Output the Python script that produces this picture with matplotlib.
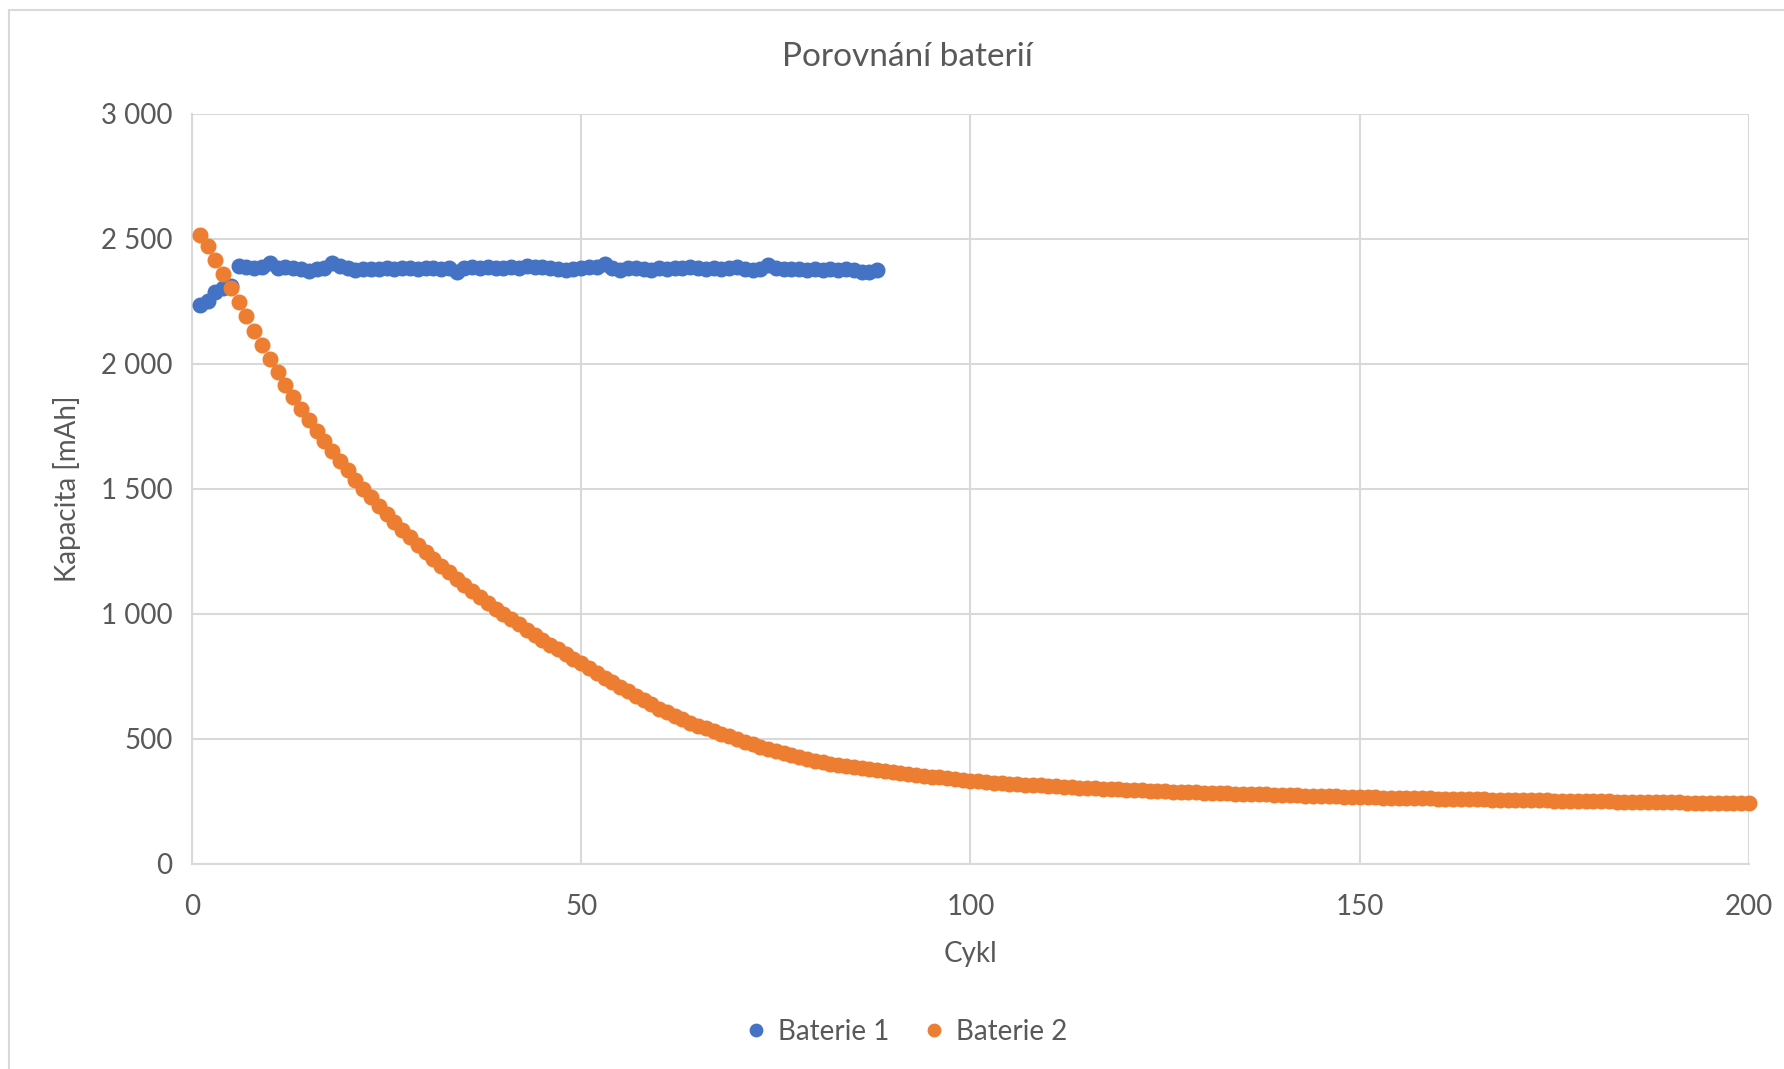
import matplotlib.pyplot as plt
from matplotlib.ticker import FuncFormatter, MultipleLocator
from matplotlib.patches import Rectangle

# =============================================================================
# DATA
# =============================================================================

TITLE = "Porovnání baterií"
X_LABEL = "Cykl"
Y_LABEL = "Kapacita [mAh]"
SERIES_NAMES = ["Baterie 1", "Baterie 2"]

BATERIE_1 = [
    2235, 2252, 2286, 2302, 2310, 2392, 2386, 2382, 2386, 2402,
    2384, 2385, 2382, 2380, 2372, 2378, 2384, 2403, 2390, 2384,
    2374, 2378, 2380, 2378, 2382, 2380, 2384, 2382, 2380, 2383,
    2381, 2379, 2382, 2366, 2384, 2386, 2382, 2388, 2384, 2381,
    2386, 2384, 2392, 2388, 2386, 2384, 2380, 2374, 2380, 2384,
    2386, 2388, 2398, 2384, 2376, 2382, 2384, 2380, 2376, 2382,
    2380, 2384, 2382, 2386, 2383, 2380, 2382, 2380, 2384, 2388,
    2378, 2374, 2380, 2394, 2382, 2380, 2378, 2378, 2376, 2378,
    2376, 2378, 2376, 2377, 2374, 2368, 2366, 2376,
]

BATERIE_2 = [
    2513, 2469, 2416, 2360, 2303, 2246, 2189, 2132, 2076, 2020,
    1966, 1915, 1866, 1819, 1774, 1731, 1690, 1650, 1611, 1573,
    1536, 1500, 1465, 1431, 1399, 1367, 1336, 1306, 1276, 1248,
    1220, 1192, 1166, 1140, 1114, 1090, 1066, 1042, 1020, 998,
    977, 957, 936, 916, 896, 876, 857, 839, 820, 802,
    781, 763, 744, 726, 708, 690, 672, 655, 637, 620,
    605, 591, 578, 565, 553, 542, 531, 520, 510, 500,
    489, 479, 469, 459, 450, 442, 434, 426, 419, 413,
    407, 401, 396, 392, 387, 383, 379, 375, 371, 367,
    364, 360, 356, 353, 349, 346, 342, 339, 335, 332,
    330, 328, 325, 323, 321, 319, 317, 316, 314, 312,
    310, 309, 307, 305, 304, 302, 301, 299, 298, 296,
    295, 294, 293, 291, 290, 289, 288, 287, 286, 285,
    284, 283, 282, 281, 280, 279, 279, 278, 277, 276,
    275, 274, 273, 272, 271, 271, 270, 269, 268, 267,
    266, 266, 265, 265, 264, 263, 263, 262, 262, 261,
    261, 260, 259, 259, 258, 258, 257, 257, 256, 256,
    255, 255, 254, 254, 253, 253, 252, 252, 251, 251,
    250, 250, 249, 249, 248, 248, 247, 247, 247, 246,
    246, 245, 245, 245, 244, 244, 243, 243, 243, 242,
]

CYCLES_1 = list(range(1, len(BATERIE_1) + 1))
CYCLES_2 = list(range(1, len(BATERIE_2) + 1))

# =============================================================================
# STYLE
# =============================================================================

BLUE = "#4472C4"
ORANGE = "#ED7D31"
TEXT = "#595959"
GRID = "#D9D9D9"

plt.rcParams["font.family"] = ["Lato", "DejaVu Sans"]


def thousands(v, _pos):
    return f"{int(v):,}".replace(",", " ")


fig = plt.figure(figsize=(17.84, 10.69), dpi=100)
ax = fig.add_axes([0.1076, 0.192, 0.8728, 0.7016])

# outer chart border (Excel chart area)
fig.patches.append(Rectangle((9 / 1784, -0.05), 1.2, 1 - 10 / 1069 + 0.05,
                             transform=fig.transFigure, fill=False,
                             edgecolor=GRID, linewidth=1.5))

ax.plot(CYCLES_1, BATERIE_1, linestyle="none", marker="o", markersize=10.5,
        color=BLUE, label=SERIES_NAMES[0], clip_on=False, zorder=3)
ax.plot(CYCLES_2, BATERIE_2, linestyle="none", marker="o", markersize=10.5,
        color=ORANGE, label=SERIES_NAMES[1], clip_on=False, zorder=3)

ax.set_xlim(0, 200)
ax.set_ylim(0, 3000)
ax.xaxis.set_major_locator(MultipleLocator(50))
ax.yaxis.set_major_locator(MultipleLocator(500))
ax.yaxis.set_major_formatter(FuncFormatter(thousands))

ax.grid(True, color=GRID, linewidth=1.5, zorder=0)
ax.set_axisbelow(True)
for side in ["top", "right"]:
    ax.spines[side].set_visible(False)
for side in ["left", "bottom"]:
    ax.spines[side].set_color(GRID)
    ax.spines[side].set_linewidth(1.5)

ax.tick_params(axis="y", length=0, labelsize=20, labelcolor=TEXT, pad=14)
ax.tick_params(axis="x", length=0, labelsize=20, labelcolor=TEXT, pad=22)
ax.set_xlabel(X_LABEL, fontsize=20, color=TEXT, labelpad=15)
ax.set_ylabel(Y_LABEL, fontsize=20, color=TEXT, labelpad=14)

fig.text(0.5085, 0.947, TITLE, ha="center", va="center", fontsize=24, color=TEXT)

fig.legend(loc="center", bbox_to_anchor=(0.508, 0.035), ncol=2, frameon=False,
           fontsize=20, labelcolor=TEXT, handlelength=0.8, handletextpad=0.4,
           columnspacing=1.2, markerscale=0.85)

fig.savefig("out.png", dpi=100)
